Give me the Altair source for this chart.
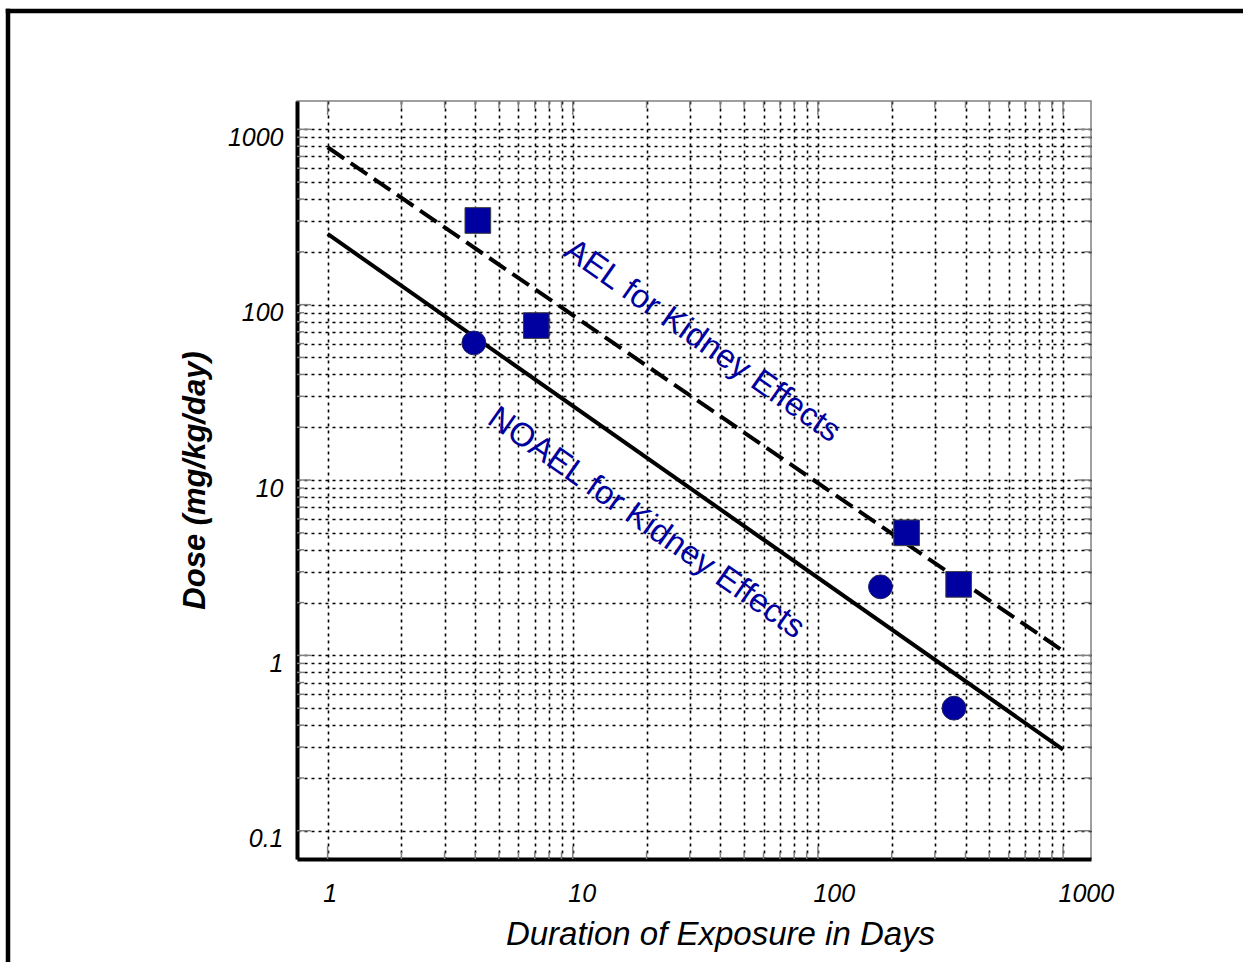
import altair as alt
import pandas as pd

# ---- data ----
X_MAJOR = [1, 10, 100, 1000]
X_MINOR = [2, 3, 4, 5, 6, 7, 8, 9, 20, 30, 40, 50, 60, 70, 80, 90,
           200, 300, 400, 500, 600, 700, 800, 900]
Y_MAJOR = [0.1, 1, 10, 100, 1000]
Y_MINOR = [0.2, 0.3, 0.4, 0.5, 0.6, 0.7, 0.8, 0.9, 2, 3, 4, 5, 6, 7, 8, 9,
           20, 30, 40, 50, 60, 70, 80, 90, 200, 300, 400, 500, 600, 700, 800, 900]
X_GRID = sorted(X_MAJOR + X_MINOR)
Y_GRID = sorted(Y_MAJOR + Y_MINOR)

SQUARE_DAYS = [4.1, 7.1, 230, 375]
SQUARE_DOSE = [302, 76, 5.0, 2.54]
CIRCLE_DAYS = [3.95, 180, 359]
CIRCLE_DOSE = [60.5, 2.46, 0.5]

AEL_DAYS = [1, 1000]
AEL_DOSE = [790, 1.06]
NOAEL_DAYS = [1, 1000]
NOAEL_DOSE = [253, 0.29]

LABEL_TEXT = ["AEL for Kidney Effects", "NOAEL for Kidney Effects"]
LABEL_DAYS = [9.04, 4.42]
LABEL_DOSE = [192, 21.2]

W, H = 794, 758
FONT = "Liberation Sans"
BLUE = "#0000A0"
GRAY = "#808080"

xscale = alt.Scale(type="log", domain=[0.75, 1300], nice=False)
yscale = alt.Scale(type="log", domain=[0.069, 1450], nice=False)

dec_expr = "indexof(['0.1','1','10','100','1000'], datum.label) >= 0 ? datum.label : ''"

xaxis = alt.Axis(
    title="Duration of Exposure in Days", values=X_GRID, format="~g", labelExpr=dec_expr,
    grid=True, gridDash=[3, 4], gridColor="black", gridWidth=1.6, gridOpacity=1,
    ticks=False, domain=True, domainColor="black", domainWidth=4,
    labelFont=FONT, labelFontStyle="italic", labelFontSize=25, labelColor="black",
    labelPadding=22, labelAlign="left", labelOffset=-5, labelOverlap=False, labelFlush=False,
    titleFont=FONT, titleFontStyle="italic", titleFontWeight="normal", titleFontSize=33,
    titleColor="black", titleX=423, titlePadding=12,
)
yaxis = alt.Axis(
    title="Dose (mg/kg/day)", values=Y_GRID, format="~g", labelExpr=dec_expr,
    grid=True, gridDash=[3, 4], gridColor="black", gridWidth=1.6, gridOpacity=1,
    ticks=False, domain=True, domainColor="black", domainWidth=4,
    labelFont=FONT, labelFontStyle="italic", labelFontSize=25, labelColor="black",
    labelPadding=14, labelOffset=8, labelOverlap=False, labelFlush=False,
    titleFont=FONT, titleFontStyle="italic", titleFontWeight="bold", titleFontSize=31,
    titleColor="black", titlePadding=16,
)


def X():
    return alt.X("x:Q", scale=xscale, axis=xaxis)


def Y():
    return alt.Y("y:Q", scale=yscale, axis=yaxis)


ael = pd.DataFrame({"x": AEL_DAYS, "y": AEL_DOSE})
noael = pd.DataFrame({"x": NOAEL_DAYS, "y": NOAEL_DOSE})
squares = pd.DataFrame({"x": SQUARE_DAYS, "y": SQUARE_DOSE})
circles = pd.DataFrame({"x": CIRCLE_DAYS, "y": CIRCLE_DOSE})
labels = pd.DataFrame({"x": LABEL_DAYS, "y": LABEL_DOSE, "t": LABEL_TEXT})

ael_line = alt.Chart(ael).mark_line(color="black", strokeWidth=4, strokeDash=[20, 8]).encode(x=X(), y=Y())
noael_line = alt.Chart(noael).mark_line(color="black", strokeWidth=4).encode(x=X(), y=Y())

sq = alt.Chart(squares).mark_point(shape="square", filled=True, size=660, fill=BLUE,
                                   stroke="#404040", strokeWidth=1, opacity=1).encode(x=X(), y=Y())
ci = alt.Chart(circles).mark_point(shape="circle", filled=True, size=570, fill=BLUE,
                                   stroke="#202060", strokeWidth=1, opacity=1).encode(x=X(), y=Y())

txt = alt.Chart(labels).mark_text(angle=35, align="left", baseline="alphabetic", font=FONT,
                                  fontSize=33, color=BLUE).encode(x=X(), y=Y(), text="t:N")

# inward ticks on all four sides
xmaj = pd.DataFrame({"x": X_MAJOR})
xmin = pd.DataFrame({"x": X_MINOR})
ymaj = pd.DataFrame({"y": Y_MAJOR})
ymin = pd.DataFrame({"y": Y_MINOR})
tick = dict(color=GRAY, strokeWidth=1.5)
tick_layers = [
    alt.Chart(xmaj).mark_rule(**tick).encode(x=X(), y=alt.value(H), y2=alt.value(H - 13)),
    alt.Chart(xmin).mark_rule(**tick).encode(x=X(), y=alt.value(H), y2=alt.value(H - 7)),
    alt.Chart(xmaj).mark_rule(**tick).encode(x=X(), y=alt.value(0), y2=alt.value(14)),
    alt.Chart(xmin).mark_rule(**tick).encode(x=X(), y=alt.value(0), y2=alt.value(7)),
    alt.Chart(ymaj).mark_rule(**tick).encode(y=Y(), x=alt.value(0), x2=alt.value(14)),
    alt.Chart(ymin).mark_rule(**tick).encode(y=Y(), x=alt.value(0), x2=alt.value(7)),
    alt.Chart(ymaj).mark_rule(**tick).encode(y=Y(), x=alt.value(W), x2=alt.value(W - 14)),
    alt.Chart(ymin).mark_rule(**tick).encode(y=Y(), x=alt.value(W), x2=alt.value(W - 7)),
]

# outer frame of the figure
dummy = pd.DataFrame({"a": [0]})
frame_v = alt.Chart(dummy).mark_rule(color="black", strokeWidth=4.5, strokeCap="square").encode(
    x=alt.value(-289), y=alt.value(-90), y2=alt.value(H + 200))
frame_h = alt.Chart(dummy).mark_rule(color="black", strokeWidth=4.5, strokeCap="square").encode(
    x=alt.value(-289), x2=alt.value(W + 300), y=alt.value(-90))

chart = alt.layer(
    *tick_layers, ael_line, noael_line, txt, sq, ci, frame_v, frame_h
).properties(
    width=W, height=H,
    padding={"left": 297, "top": 101, "right": 152, "bottom": 103},
    autosize=alt.AutoSizeParams(type="none"),
    background="white",
).configure_view(stroke=GRAY, strokeWidth=1.5)

chart.save("out.html", embed_options={"renderer": "svg", "actions": False})
